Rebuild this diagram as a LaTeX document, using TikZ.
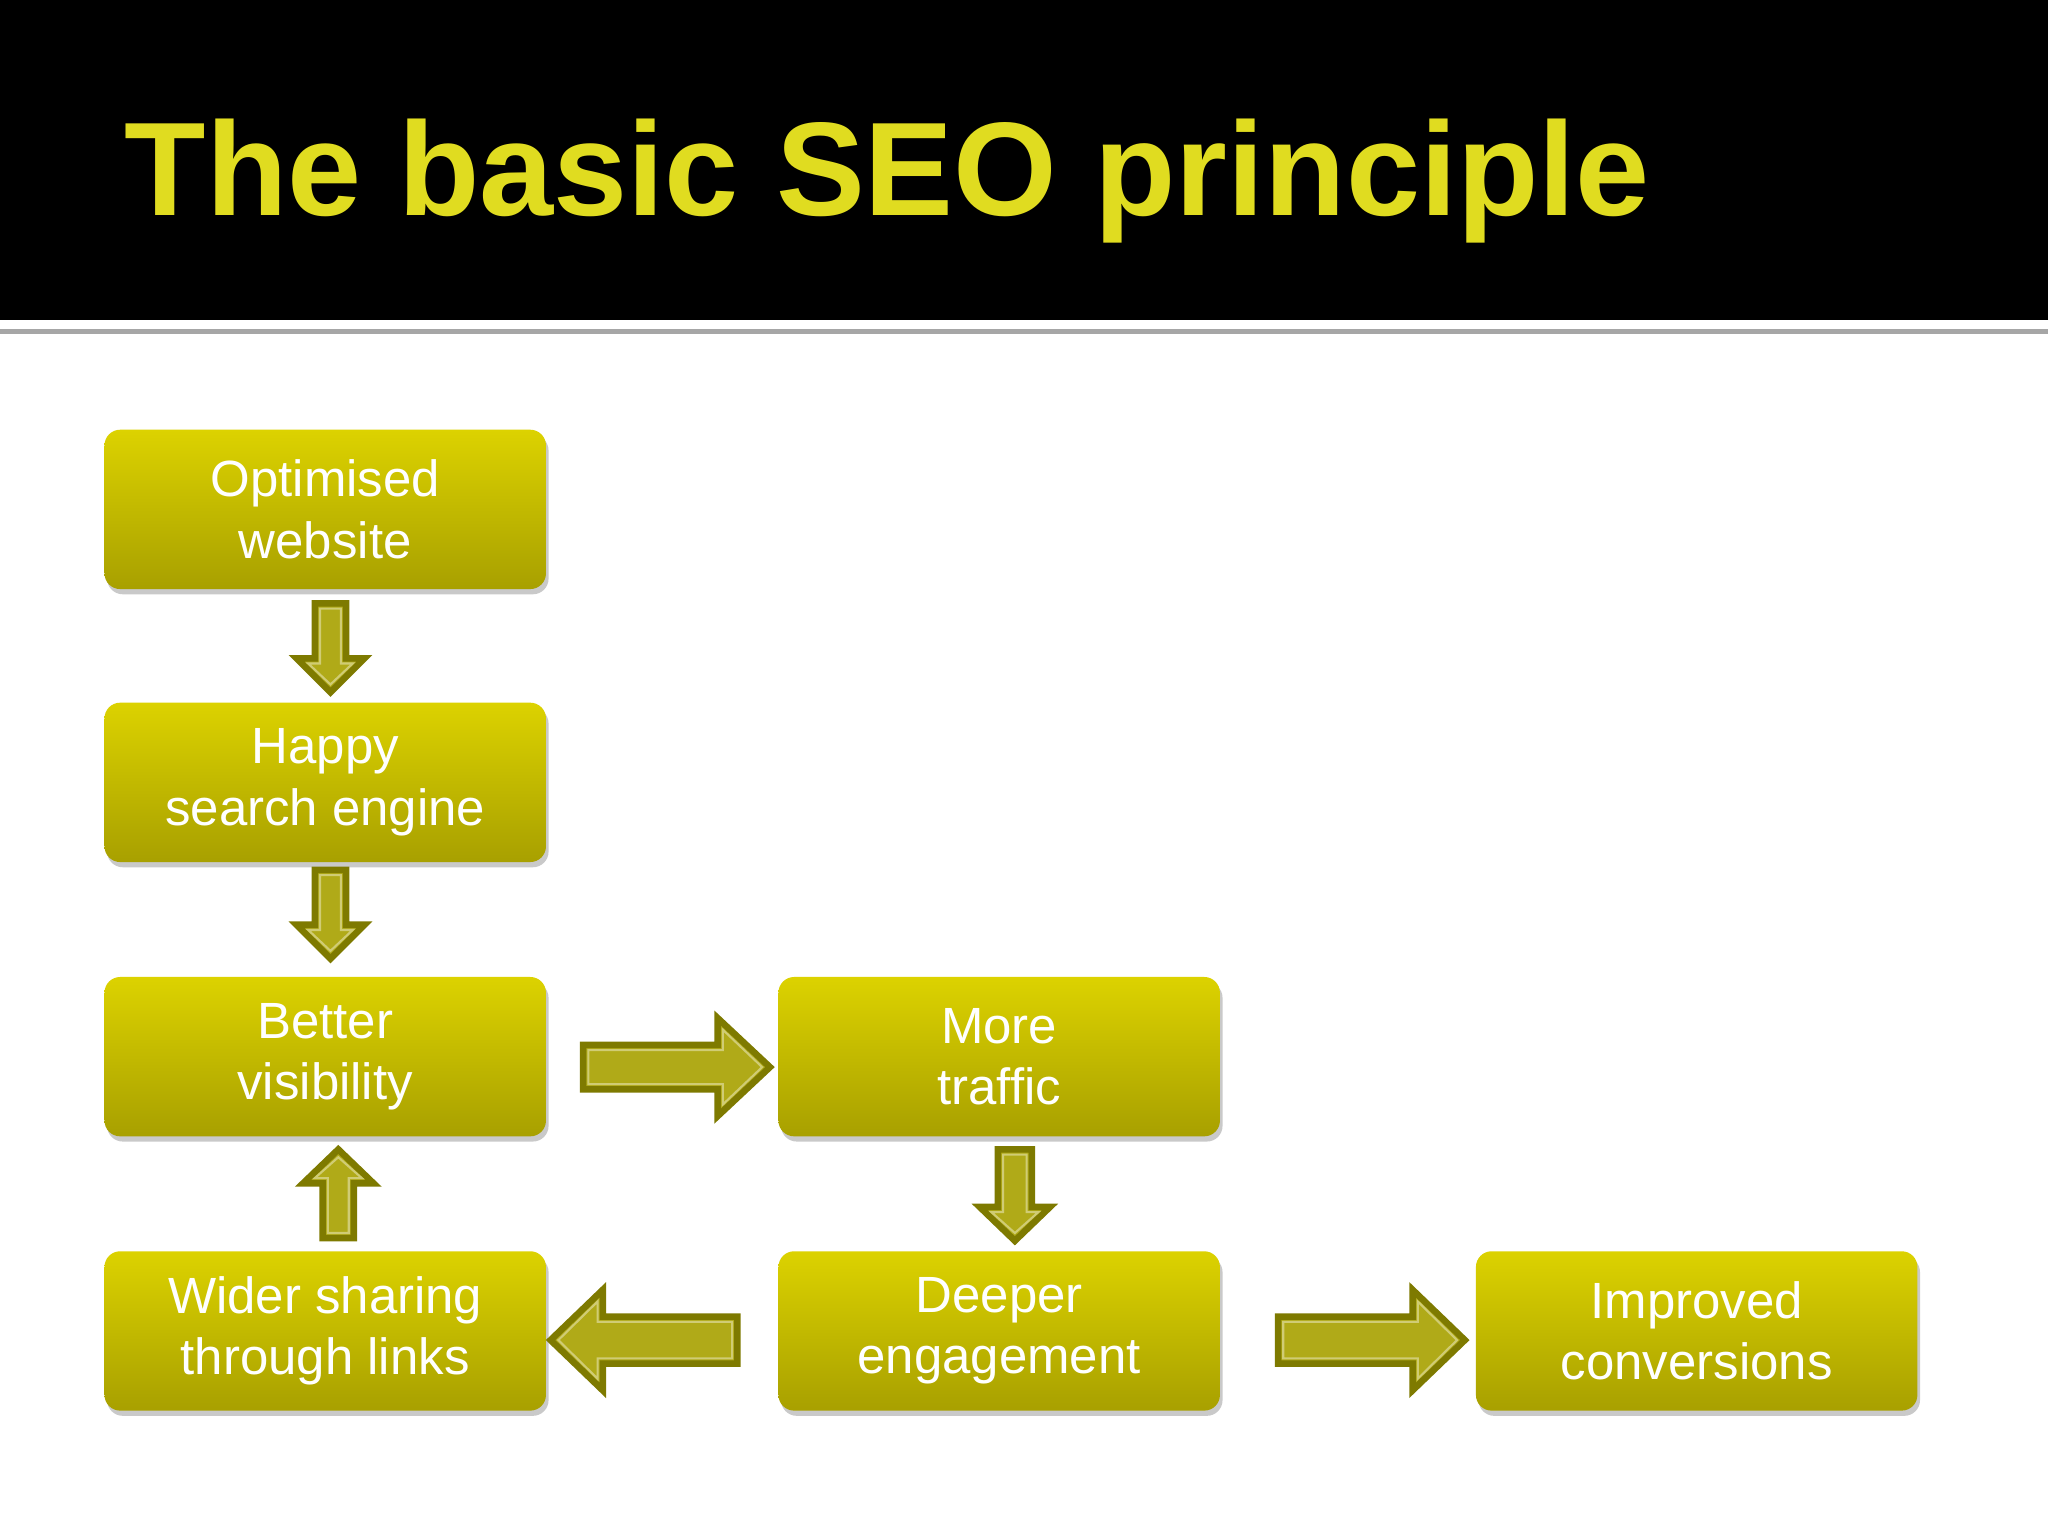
\documentclass[tikz,border=0pt]{standalone}
\usepackage{fontspec}
\setmainfont{Liberation Sans}
\usetikzlibrary{shadows}
\definecolor{boxtop}{HTML}{DCD200}
\definecolor{boxbot}{HTML}{A8A000}
\definecolor{arfill}{HTML}{B0AA18}
\definecolor{ardraw}{HTML}{7E7A00}
\definecolor{ttl}{HTML}{E0DC20}
\newcommand{\fatarrow}[6]{% center, angle, length, headw, shaftw, headlen
\begin{scope}[shift={#1},rotate=#2]
\draw[fill=arfill,draw=ardraw,line width=2.5] (-#3/2,-#5/2) -- (#3/2-#6,-#5/2) -- (#3/2-#6,-#4/2) -- (#3/2,0) -- (#3/2-#6,#4/2) -- (#3/2-#6,#5/2) -- (-#3/2,#5/2) -- cycle;
\draw[draw=arfill!60!white,line width=0.8] (-#3/2+4,-#5/2+4) -- (#3/2-#6+4,-#5/2+4) -- (#3/2-#6+4,-#4/2+9) -- (#3/2-6,0) -- (#3/2-#6+4,#4/2-9) -- (#3/2-#6+4,#5/2-4) -- (-#3/2+4,#5/2-4) -- cycle;
\end{scope}}
\begin{document}
\begin{tikzpicture}[x=0.5pt,y=-0.5pt,
  box/.style={draw=none,rounded corners=6pt,minimum width=169pt,minimum height=61pt,
    top color=boxtop,bottom color=boxbot,text=white,align=center,
    font=\fontsize{19.5}{23.5}\selectfont,
    drop shadow={shadow xshift=1pt,shadow yshift=-2pt,fill=black!35,opacity=0.6}}]
\useasboundingbox (0,0) rectangle (1568,1176);
\fill[white] (0,0) rectangle (1568,1176);
\fill[black] (0,0) rectangle (1568,245);
\fill[black!35] (0,252) rectangle (1568,256);
\node[anchor=base west,text=ttl,font=\bfseries\fontsize{51}{60}\selectfont,inner sep=0] (title) at (95,165) {The basic SEO principle};
\node[box] (a) at (249,390) {Optimised\\website};
\node[box] (b) at (249,599) {Happy\\search engine};
\node[box] (c) at (249,809) {Better\\visibility};
\node[box] (d) at (765,809) {More\\traffic};
\node[box] (e) at (765,1019) {Deeper\\engagement};
\node[box] (f) at (249,1019) {Wider sharing\\through links};
\node[box] (g) at (1299,1019) {Improved\\conversions};
\fatarrow{(253,496)}{-90}{68}{52}{24}{26}
\fatarrow{(253,700)}{-90}{68}{52}{24}{26}
\fatarrow{(518,817)}{0}{143}{75}{34}{40}
\fatarrow{(777,915)}{-90}{70}{54}{26}{26}
\fatarrow{(259,914)}{90}{68}{54}{24}{26}
\fatarrow{(493,1026)}{180}{143}{77}{36}{40}
\fatarrow{(1050,1026)}{0}{143}{77}{36}{40}
\end{tikzpicture}
\end{document}
